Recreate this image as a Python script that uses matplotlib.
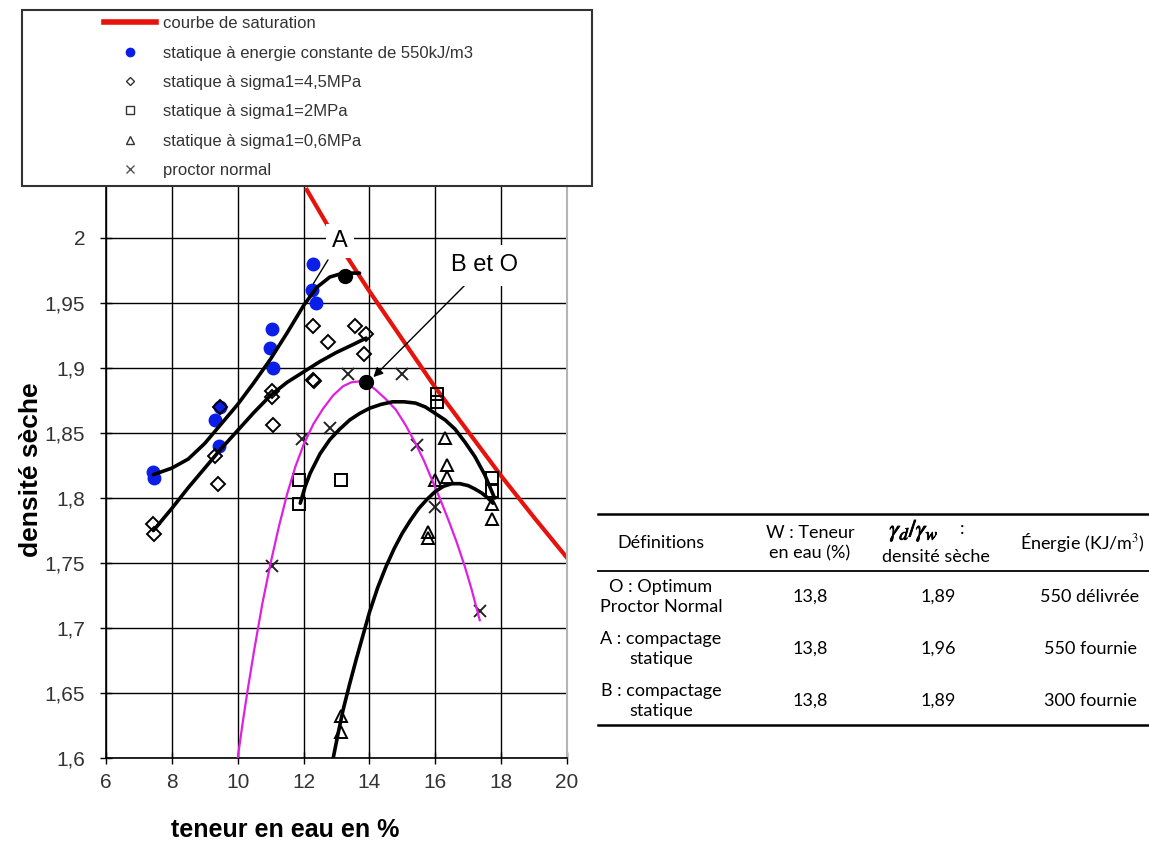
import matplotlib
matplotlib.use("Agg")
import matplotlib.pyplot as plt
import matplotlib.patheffects as pe
from matplotlib.lines import Line2D
from matplotlib.patches import Rectangle
from matplotlib.ticker import FuncFormatter, MultipleLocator

plt.rcParams['font.family'] = ['Liberation Sans', 'DejaVu Sans']
plt.rcParams['mathtext.fontset'] = 'stix'

# courbe de saturation
sat_w = [12.1, 13.0, 14.0, 15.0, 16.0, 17.0, 18.0, 19.0, 20.0]
sat_d = [2.037, 1.998, 1.959, 1.922, 1.885, 1.851, 1.817, 1.785, 1.754]

# statique à energie constante de 550kJ/m3
bleu_w = [7.44, 7.47, 9.31, 9.44, 9.46, 10.98, 11.03, 11.08, 12.25, 12.29, 12.38]
bleu_d = [1.820, 1.815, 1.860, 1.840, 1.870, 1.915, 1.930, 1.900, 1.960, 1.980, 1.950]

# statique à sigma1=4,5MPa
losange_w = [7.44, 7.46, 9.31, 9.41, 9.46, 11.03, 11.05, 11.06, 12.28, 12.33, 12.3, 12.75, 13.56, 13.82, 13.89]
losange_d = [1.780, 1.772, 1.832, 1.811, 1.870, 1.882, 1.878, 1.856, 1.891, 1.890, 1.932, 1.920, 1.932, 1.911, 1.926]

# statique à sigma1=2MPa
carre_w = [11.86, 11.86, 13.13, 16.04, 16.04, 17.71, 17.71]
carre_d = [1.814, 1.795, 1.814, 1.880, 1.874, 1.815, 1.805]

# statique à sigma1=0,6MPa
tri_w = [13.13, 13.13, 15.79, 15.79, 15.99, 16.30, 16.35, 16.35, 17.71, 17.73]
tri_d = [1.632, 1.620, 1.774, 1.769, 1.814, 1.846, 1.825, 1.816, 1.795, 1.784]

# proctor normal
croix_w = [11.03, 11.94, 12.80, 13.36, 14.98, 15.43, 15.99, 17.36]
croix_d = [1.748, 1.845, 1.854, 1.895, 1.895, 1.841, 1.793, 1.713]

# points A et B/O
pt_w = [13.26, 13.89]
pt_d = [1.971, 1.889]

# courbes de tendance
fitA_w = [7.44, 8.0, 8.5, 9.0, 9.5, 10.0, 10.5, 11.0, 11.5, 12.0, 12.4, 12.8, 13.2, 13.7]
fitA_d = [1.818, 1.823, 1.830, 1.842, 1.857, 1.872, 1.889, 1.907, 1.927, 1.948, 1.962, 1.970, 1.973, 1.973]
fit45_w = [7.44, 8.0, 8.5, 9.0, 9.5, 10.0, 10.5, 11.0, 11.5, 12.0, 12.5, 13.0, 13.5, 13.9]
fit45_d = [1.775, 1.792, 1.808, 1.823, 1.838, 1.852, 1.866, 1.879, 1.889, 1.897, 1.905, 1.912, 1.918, 1.923]
fit2_w = [11.9, 12.05, 12.2, 12.5, 12.8, 13.1, 13.4, 13.7, 14.0, 14.35, 14.7, 15.05, 15.4, 15.7, 16.0, 16.3,
          16.6, 16.9, 17.2, 17.5, 17.8]
fit2_d = [1.796, 1.809, 1.819, 1.834, 1.845, 1.853, 1.860, 1.865, 1.869, 1.872, 1.874, 1.874, 1.873, 1.870,
          1.865, 1.860, 1.853, 1.843, 1.832, 1.818, 1.800]
fit06_w = [12.9, 13.05, 13.2, 13.4, 13.6, 13.8, 14.0, 14.25, 14.5, 14.75, 15.0, 15.25, 15.5, 15.75, 16.0,
           16.25, 16.5, 16.75, 17.0, 17.2, 17.4, 17.6, 17.75]
fit06_d = [1.600, 1.619, 1.637, 1.657, 1.676, 1.694, 1.712, 1.731, 1.747, 1.761, 1.773, 1.783, 1.792, 1.799,
           1.805, 1.809, 1.811, 1.811, 1.8095, 1.807, 1.804, 1.800, 1.796]
fitpn_w = [10.0, 10.15, 10.3, 10.5, 10.75, 11.0, 11.25, 11.5, 11.75, 12.0, 12.3, 12.6, 12.9, 13.2, 13.45, 13.7,
           13.95, 14.2, 14.5, 14.8, 15.1, 15.4, 15.65, 15.9, 16.15, 16.4, 16.65, 16.9, 17.1, 17.35]
fitpn_d = [1.600, 1.627, 1.652, 1.683, 1.719, 1.750, 1.778, 1.803, 1.824, 1.841, 1.857, 1.869, 1.879, 1.886,
           1.889, 1.8897, 1.888, 1.883, 1.876, 1.868, 1.856, 1.842, 1.829, 1.814, 1.799, 1.783, 1.766, 1.747,
           1.730, 1.706]

# tableau
entetes = ["Définitions", "W : Teneur\nen eau (%)", "densité sèche", "Énergie (KJ/m$^{3}$)"]
definitions = ["O : Optimum\nProctor Normal", "A : compactage\nstatique", "B : compactage\nstatique"]
teneurs = ["13,8", "13,8", "13,8"]
densites = ["1,89", "1,96", "1,89"]
energies = ["550 délivrée", "550 fournie", "300 fournie"]

W, H = 1149, 850
fig = plt.figure(figsize=(W / 100, H / 100), dpi=100)


def fx(px):
    return px / W


def fy(py):
    return 1 - py / H


ax = fig.add_axes([fx(106), fy(758), fx(567) - fx(106), fy(186) - fy(758)])
ax.set_xlim(6, 20)
ax.set_ylim(1.6, 2.04)
ax.xaxis.set_major_locator(MultipleLocator(2))
ax.yaxis.set_major_locator(MultipleLocator(0.05))
virgule = FuncFormatter(lambda v, p: ('%g' % round(v, 3)).replace('.', ','))
ax.xaxis.set_major_formatter(virgule)
ax.yaxis.set_major_formatter(virgule)
ax.grid(True, color='black', lw=1.0)
ax.set_axisbelow(True)
ax.tick_params(direction='inout', length=8, width=1, labelsize=15, colors='black')
ax.tick_params(axis='x', pad=7)
ax.tick_params(axis='y', pad=11)
for lab in ax.get_xticklabels() + ax.get_yticklabels():
    lab.set_color('#333333')
ax.spines['top'].set_visible(False)
ax.spines['right'].set_color('#b5b5b5')
ax.spines['right'].set_linewidth(1.5)
ax.spines['left'].set_linewidth(1.2)
ax.spines['bottom'].set_linewidth(1.2)

ax.plot(sat_w, sat_d, color='#e8120c', lw=3, zorder=2)
ax.plot(bleu_w, bleu_d, 'o', color='#0b1ee8', ms=9, zorder=3)
ax.plot(losange_w, losange_d, 'D', mfc='none', mec='black', mew=1.4, ms=7, zorder=4)
ax.plot(carre_w, carre_d, 's', mfc='none', mec='black', mew=1.4, ms=9, zorder=4)
ax.plot(tri_w, tri_d, '^', mfc='none', mec='black', mew=1.4, ms=9, zorder=4)
ax.plot(croix_w, croix_d, 'x', color='#222222', mew=1.4, ms=9, zorder=4)
ax.plot(fitpn_w, fitpn_d, color='#e020e0', lw=1.6, zorder=5)
for cw, cd in [(fitA_w, fitA_d), (fit45_w, fit45_d), (fit2_w, fit2_d), (fit06_w, fit06_d)]:
    ax.plot(cw, cd, color='black', lw=2.6, zorder=6, solid_capstyle='round', solid_joinstyle='round')
ax.plot(pt_w, pt_d, 'o', color='black', ms=10, zorder=7)

ax.annotate('A', xy=(12.3, 1.965), xytext=(13.1, 1.998), fontsize=17, ha='center', va='center',
            bbox=dict(boxstyle='square,pad=0.25', fc='white', ec='none'),
            arrowprops=dict(arrowstyle='-', lw=1, color='black', shrinkA=2, shrinkB=0), zorder=8)
ax.annotate('B et O', xy=(14.12, 1.893), xytext=(17.5, 1.979), fontsize=17, ha='center', va='center',
            bbox=dict(boxstyle='square,pad=0.4', fc='white', ec='none'),
            arrowprops=dict(arrowstyle='-|>', lw=1, color='black', mutation_scale=14, shrinkA=0, shrinkB=0),
            zorder=8)

fig.text(fx(285), fy(830), 'teneur en eau en %', fontsize=18, fontweight='bold', ha='center', va='center')
fig.text(fx(31), fy(470), 'densité sèche', fontsize=19, fontweight='bold', ha='center', va='center',
         rotation=90)

# légende encadrée au-dessus du graphique
fig.patches.append(Rectangle((fx(22), fy(186)), fx(592) - fx(22), fy(10) - fy(186),
                             transform=fig.transFigure, fill=True, fc='white', ec='#333333', lw=1.5, zorder=10))
poignees = [
    Line2D([], [], color='#e8120c', lw=4),
    Line2D([], [], ls='none', marker='o', color='#0b1ee8', ms=6),
    Line2D([], [], ls='none', marker='D', mfc='none', mec='#333333', ms=4.5),
    Line2D([], [], ls='none', marker='s', mfc='none', mec='#333333', ms=5.5),
    Line2D([], [], ls='none', marker='^', mfc='none', mec='#333333', ms=5.5),
    Line2D([], [], ls='none', marker='x', color='#555555', ms=6),
]
etiquettes = ['courbe de saturation', 'statique à energie constante de 550kJ/m3', 'statique à sigma1=4,5MPa',
              'statique à sigma1=2MPa', 'statique à sigma1=0,6MPa', 'proctor normal']
leg = fig.legend(poignees, etiquettes, loc='upper left', bbox_to_anchor=(fx(96), fy(8)), frameon=False,
                 fontsize=12, handlelength=3.1, handletextpad=0.4, labelspacing=0.86, borderpad=0)
leg.set_zorder(11)
for t in leg.get_texts():
    t.set_color('#333333')

# tableau des définitions
tf = ['Lato', 'DejaVu Sans']
fs = 13
fig.add_artist(Line2D([fx(598), fx(1149)], [fy(514), fy(514)], color='black', lw=1.8))
fig.add_artist(Line2D([fx(598), fx(1149)], [fy(571), fy(571)], color='black', lw=1.3))
fig.add_artist(Line2D([fx(598), fx(1149)], [fy(725), fy(725)], color='black', lw=1.8))
col_x = [661, 810, 936, 1090]
fig.text(fx(col_x[0]), fy(543), entetes[0], ha='center', va='center', fontsize=fs, family=tf)
fig.text(fx(col_x[1]), fy(543), entetes[1], ha='center', va='center', fontsize=fs, family=tf,
         linespacing=1.3)
g = fig.text(fx(914), fy(531), r'$\gamma_d/\gamma_w$', ha='center', va='center', fontsize=17.5)
g.set_path_effects([pe.withStroke(linewidth=0.6, foreground='black')])
fig.text(fx(962), fy(529), ':', ha='center', va='center', fontsize=fs, family=tf)
fig.text(fx(col_x[2]), fy(557), entetes[2], ha='center', va='center', fontsize=fs, family=tf)
fig.text(fx(1145), fy(543), entetes[3], ha='right', va='center', fontsize=fs, family=tf)
lignes_y = [597, 649, 701]
for i in range(3):
    fig.text(fx(col_x[0]), fy(lignes_y[i]), definitions[i], ha='center', va='center', fontsize=fs,
             family=tf, linespacing=1.25)
    fig.text(fx(col_x[1]), fy(lignes_y[i]), teneurs[i], ha='center', va='center', fontsize=fs, family=tf)
    fig.text(fx(938), fy(lignes_y[i]), densites[i], ha='center', va='center', fontsize=fs, family=tf)
    fig.text(fx(col_x[3]), fy(lignes_y[i]), energies[i], ha='center', va='center', fontsize=fs, family=tf)

fig.savefig('out.png', dpi=100)
